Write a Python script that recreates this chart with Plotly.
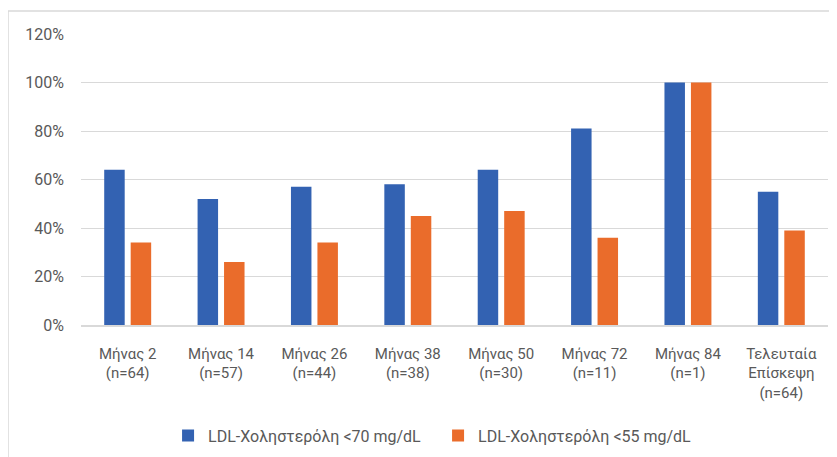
import plotly.graph_objects as go

categories = ["Μήνας 2<br>(n=64)", "Μήνας 14<br>(n=57)", "Μήνας 26<br>(n=44)",
              "Μήνας 38<br>(n=38)", "Μήνας 50<br>(n=30)", "Μήνας 72<br>(n=11)",
              "Μήνας 84<br>(n=1)", "Τελευταία<br>Επίσκεψη<br>(n=64)"]
ldl_below_70 = [64, 52, 57, 58, 64, 81, 100, 55]
ldl_below_55 = [34, 26, 34, 45, 47, 36, 100, 39]
series_names = ["LDL-Χοληστερόλη <70 mg/dL", "LDL-Χοληστερόλη <55 mg/dL"]
y_ticks = [0, 20, 40, 60, 80, 100, 120]
y_tick_labels = ["0%", "20%", "40%", "60%", "80%", "100%", "120%"]

BLUE = "#3362B2"
ORANGE = "#EA6C2B"
TEXT = "#595959"
FONT = "Roboto, sans-serif"

fig = go.Figure()
fig.add_trace(go.Bar(x=categories, y=ldl_below_70, name=series_names[0],
                     marker=dict(color=BLUE, line=dict(width=0))))
fig.add_trace(go.Bar(x=categories, y=ldl_below_55, name=series_names[1],
                     marker=dict(color=ORANGE, line=dict(width=0))))

# page has an 8px body margin; figure is sized/margined to compensate
fig.update_layout(
    width=829, height=449,
    margin=dict(l=73, r=9, t=26, b=132, autoexpand=False),
    paper_bgcolor="white", plot_bgcolor="white",
    barmode="group", bargap=0.433, bargroupgap=0.226,
    font=dict(family=FONT, size=15, color=TEXT),
    showlegend=True,
    legend=dict(orientation="h", x=0.478, xanchor="center", y=-0.38, yanchor="middle",
                font=dict(size=16, color=TEXT), itemwidth=30, traceorder="normal",
                entrywidth=225, entrywidthmode="pixels"),
    shapes=[dict(type="rect", xref="paper", yref="paper",
                 x0=(0 - 73) / 747, x1=(845 - 73) / 747,
                 y0=(317 - 465) / 291, y1=(317 - 3) / 291,
                 line=dict(color="#D9D9D9", width=1.5), layer="below")],
)
fig.update_xaxes(showgrid=False, showline=True, linecolor="#D9D9D9", linewidth=1.5,
                 ticks="", tickfont=dict(size=15, color=TEXT), ticklabelstandoff=14,
                 automargin=False)
fig.update_yaxes(range=[0, 120], tickvals=y_ticks, ticktext=y_tick_labels,
                 showgrid=True, gridcolor="#D9D9D9", gridwidth=1.2, zeroline=False,
                 showline=False, ticks="", tickfont=dict(size=16, color=TEXT),
                 ticklabelstandoff=16, automargin=False)

fig.write_html("out.html")
